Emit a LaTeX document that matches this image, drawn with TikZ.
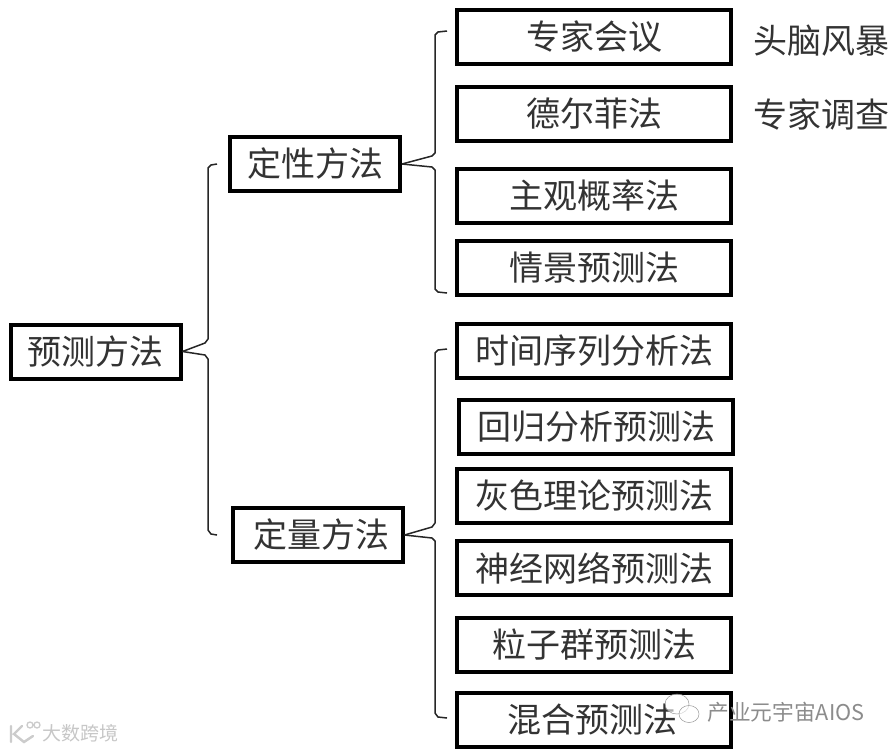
\documentclass[tikz,border=0pt]{standalone}
\usepackage{fontspec}
\setmainfont{Noto Sans CJK SC}
\newfontfamily\cjk{Noto Sans CJK SC}
\begin{document}
\begin{tikzpicture}[x=1pt,y=-1pt,
  boxn/.style={draw=black,line width=4pt,fill=white,minimum width=#1,minimum height=54pt,inner sep=0pt,anchor=center,font=\cjk\fontsize{34}{34}\selectfont,text=black!80},
  boxn/.default=274pt,
  note/.style={font=\cjk\fontsize{34}{34}\selectfont,text=black!80,inner sep=0pt,anchor=center},
  bracket/.style={draw=black!85,line width=1.5pt,line join=round},
  wmark/.style={font=\cjk\fontsize{21.7}{22}\selectfont,text=black!45,inner sep=0pt,anchor=center}]
\useasboundingbox (0,0) rectangle (893,750);
\fill[white] (0,0) rectangle (893,750);
% boxes
\node[boxn=170pt] (root) at (95.5,351.5) {预测方法};
\node[boxn=170pt] (qual) at (315,164) {定性方法};
\node[boxn=170pt] (quant) at (317.5,535) {\hspace*{7pt}定量方法};
\node[boxn] (a1) at (594,37) {专家会议};
\node[boxn] (a2) at (594,114) {德尔菲法};
\node[boxn] (a3) at (594,196) {主观概率法};
\node[boxn] (a4) at (594,268) {情景预测法};
\node[boxn] (b1) at (594,351) {时间序列分析法};
\node[boxn] (b2) at (596,426.5) {回归分析预测法};
\node[boxn] (b3) at (594,496) {灰色理论预测法};
\node[boxn] (b4) at (594,568) {神经网络预测法};
\node[boxn] (b5) at (594,645) {粒子群预测法};
\node[boxn] (b6) at (594,720) {混合预测法\hspace*{4pt}};
\node[note] (n1) at (821,41) {头脑风暴};
\node[note] (n2) at (821,114) {专家调查};
% bracket ends
\coordinate (t1) at (447,31);
\coordinate (t2) at (447,293);
\coordinate (l1) at (217,164);
\coordinate (l2) at (217,535);
\coordinate (u1) at (447,349);
\coordinate (u2) at (447,718);
% brackets
\draw[bracket] (t1) -- (438,32) -- (435,35) -- (435,153) -- (432,156) -- (qual.east);
\draw[bracket] (qual.east) -- (432,167) -- (435,170) -- (435,289) -- (438,292) -- (t2);
\draw[bracket] (l1) -- (211,165) -- (208,168) -- (208,339) -- (205,343) -- (root.east);
\draw[bracket] (root.east) -- (205,355) -- (208,359) -- (208,530) -- (211,534) -- (l2);
\draw[bracket] (u1) -- (438,350) -- (435,353) -- (435,523) -- (432,527) -- (quant.east);
\draw[bracket] (quant.east) -- (432,538) -- (435,541) -- (435,713) -- (438,717) -- (u2);
% watermarks
\node[font=\cjk\fontsize{19}{19}\selectfont,text=black!22,inner sep=0pt] (wm1) at (80,733) {大数跨境};
\draw[black!20,line width=2.4pt,line cap=round] (11,726) -- (11,742) (22,726) -- (14,734) -- (24,742) -- (33,736);
\draw[black!20,line width=1.3pt] (30,725) circle (3pt) (37,725) circle (3pt);
\node[wmark] (wm2) at (786,712) {产业元宇宙AIOS};
\draw[black!40,fill=white,fill opacity=.6,line width=.5pt] (677,704) ellipse (12pt and 10pt);
\draw[black!40,fill=white,fill opacity=.6,line width=.5pt] (689,714) ellipse (10pt and 8.5pt);
\end{tikzpicture}
\end{document}
